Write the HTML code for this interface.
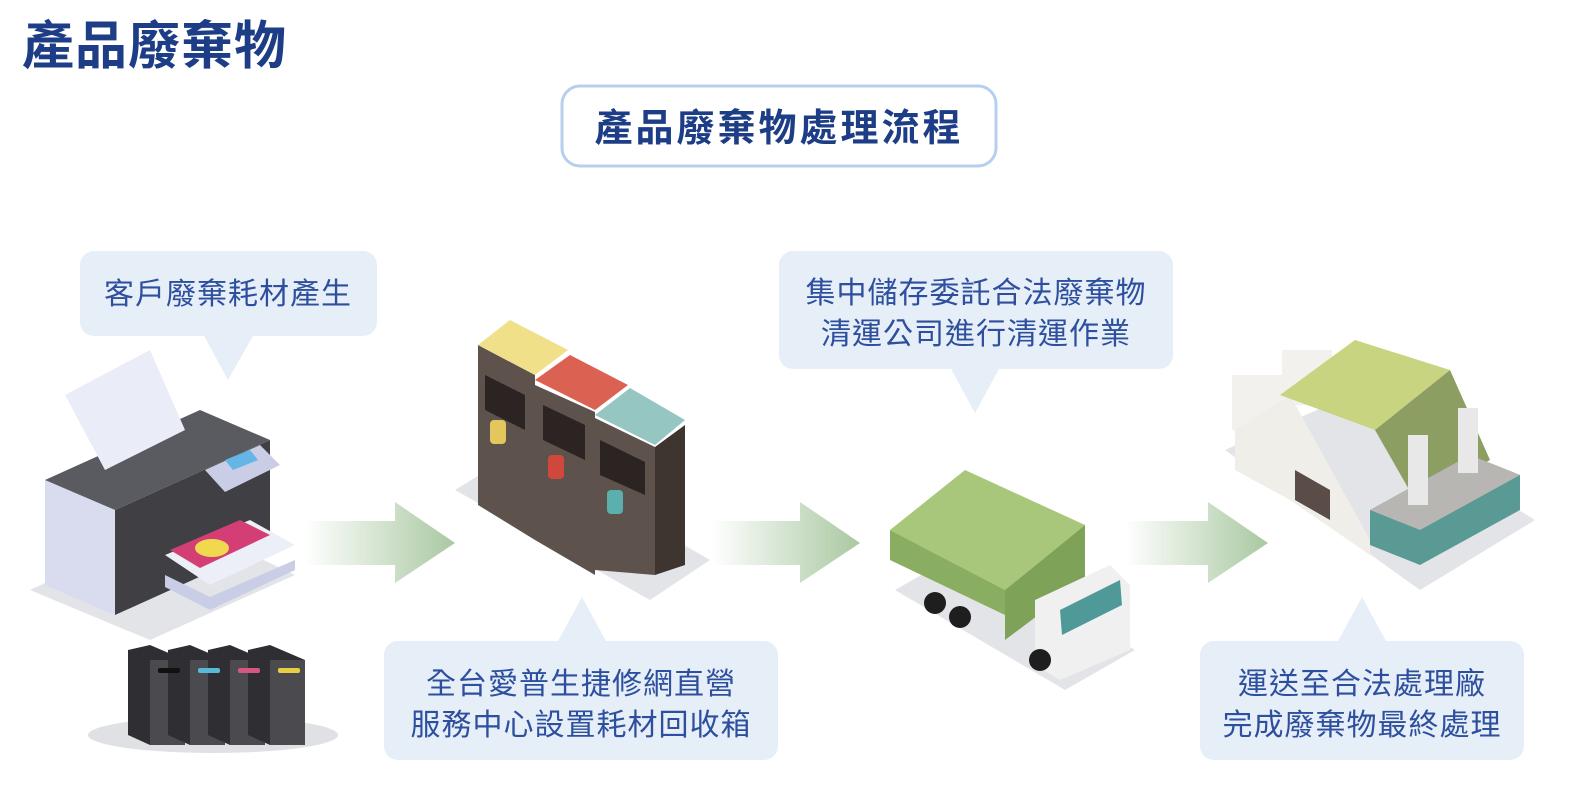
<!DOCTYPE html>
<html><head><meta charset="utf-8"><style>
body{margin:0;background:#fff;width:1570px;height:808px;overflow:hidden;font-family:"Liberation Sans","Noto Sans CJK TC",sans-serif}
svg{position:absolute;left:0;top:0}
</style></head><body>
<svg width="1570" height="808" viewBox="0 0 1570 808" xmlns="http://www.w3.org/2000/svg" font-family="Liberation Sans, Noto Sans CJK TC, sans-serif">
<defs>
<linearGradient id="ag" x1="0" x2="1" y1="0" y2="0">
<stop offset="0" stop-color="#a9c8a1" stop-opacity="0"/>
<stop offset="1" stop-color="#a9c8a1"/>
</linearGradient>
</defs>
<text x="22" y="64" font-size="52" font-weight="bold" fill="#1d3e86" letter-spacing="1">產品廢棄物</text>
<rect x="562" y="86" width="434" height="80" rx="18" fill="#fff" stroke="#b7cfee" stroke-width="3"/>
<text x="779" y="141" font-size="38" font-weight="bold" fill="#1d3e86" text-anchor="middle" letter-spacing="3">產品廢棄物處理流程</text>

<g fill="#e6eef8">
<rect x="80" y="251" width="297" height="85" rx="14"/><polygon points="203,334 254,334 228,380"/>
<rect x="779" y="251" width="394" height="118" rx="14"/><polygon points="950,367 1000,367 975,413"/>
<rect x="384" y="641" width="394" height="119" rx="14"/><polygon points="557,643 607,643 582,597"/>
<rect x="1200" y="641" width="324" height="119" rx="14"/><polygon points="1337,643 1387,643 1362,597"/>
</g>
<g fill="#2d4f9e" font-size="30" text-anchor="middle" letter-spacing="1">
<text x="228" y="304">客戶廢棄耗材產生</text>
<text x="976" y="303">集中儲存委託合法廢棄物</text>
<text x="976" y="344">清運公司進行清運作業</text>
<text x="581" y="694">全台愛普生捷修網直營</text>
<text x="581" y="735">服務中心設置耗材回收箱</text>
<text x="1362" y="694">運送至合法處理廠</text>
<text x="1362" y="735">完成廢棄物最終處理</text>
</g>

<polygon points="305,521 395,521 395,502 455,543 395,583 395,565 305,565" fill="url(#ag)"/>
<polygon points="712,521 800,521 800,502 860,543 800,583 800,565 712,565" fill="url(#ag)"/>
<polygon points="1125,521 1208,521 1208,502 1268,543 1208,583 1208,565 1125,565" fill="url(#ag)"/>

<!-- printer -->
<polygon points="30,590 150,640 295,575 180,520" fill="#e3e4e8"/>
<polygon points="45,480 115,510 115,615 45,585" fill="#d9dbef"/>
<polygon points="115,510 270,440 270,545 115,615" fill="#3f3f44"/>
<polygon points="45,480 200,410 270,440 115,510" fill="#5a5b60"/>
<polygon points="65,395 150,350 185,430 105,470" fill="#eaedf7"/>
<polygon points="205,470 260,445 280,465 225,492" fill="#c9cde6"/>
<polygon points="225,460 250,450 258,460 233,470" fill="#63b6e6"/>
<polygon points="165,555 250,520 295,545 210,585" fill="#eceef8"/>
<polygon points="170,550 240,520 270,535 200,568" fill="#d33f75"/>
<ellipse cx="212" cy="548" rx="17" ry="9" fill="#f0d94f"/>
<polygon points="165,575 210,597 295,560 295,570 210,610 165,587" fill="#c9cde6"/>
<ellipse cx="213" cy="735" rx="125" ry="18" fill="#e0e1e4"/>
<g>
<polygon points="128,650 150,645 185,660 185,745 150,745 128,735" fill="#2f2f33"/>
<polygon points="150,660 185,660 185,745 150,745" fill="#4a4a4f"/>
<polygon points="168,650 190,645 225,660 225,745 190,745 168,735" fill="#2f2f33"/>
<polygon points="190,660 225,660 225,745 190,745" fill="#4a4a4f"/>
<polygon points="208,650 230,645 265,660 265,745 230,745 208,735" fill="#2f2f33"/>
<polygon points="230,660 265,660 265,745 230,745" fill="#4a4a4f"/>
<polygon points="248,650 270,645 305,660 305,745 270,745 248,735" fill="#2f2f33"/>
<polygon points="270,660 305,660 305,745 270,745" fill="#4a4a4f"/>
<rect x="158" y="668" width="22" height="5" rx="2" fill="#111"/>
<rect x="198" y="668" width="22" height="5" rx="2" fill="#5ab9d6"/>
<rect x="238" y="668" width="22" height="5" rx="2" fill="#d6567f"/>
<rect x="278" y="668" width="22" height="5" rx="2" fill="#e8cd43"/>
</g>

<!-- bins -->
<polygon points="455,490 650,600 710,560 520,450" fill="#e3e4e7"/>
<polygon points="478,345 535,375 535,540 478,505" fill="#5e524c"/>
<polygon points="478,345 510,320 568,350 535,375" fill="#f0e08a"/>
<polygon points="535,380 570,355 628,385 595,410" fill="#db6153"/>
<polygon points="535,385 595,412 595,575 535,540" fill="#5e524c"/>
<polygon points="595,415 630,388 685,420 655,445" fill="#96c6c1"/>
<polygon points="595,418 655,447 655,575 595,570" fill="#5e524c"/>
<polygon points="655,447 685,425 685,565 655,575" fill="#3e3430"/>
<polygon points="485,375 525,395 525,430 485,410" fill="#2b2422"/>
<polygon points="543,405 585,425 585,460 543,440" fill="#2b2422"/>
<polygon points="600,440 645,462 645,495 600,475" fill="#2b2422"/>
<rect x="490" y="420" width="16" height="24" rx="4" fill="#e4c75c"/>
<rect x="548" y="455" width="16" height="24" rx="4" fill="#d0483c"/>
<rect x="607" y="490" width="16" height="24" rx="4" fill="#5bb0ae"/>

<!-- truck -->
<polygon points="895,590 1065,690 1135,650 965,550" fill="#e3e4e7"/>
<polygon points="890,530 965,470 1085,525 1005,590" fill="#a9c77a"/>
<polygon points="890,530 1005,590 1005,615 890,560" fill="#8aae61"/>
<polygon points="1005,590 1085,525 1085,580 1005,640" fill="#7ea258"/>
<polygon points="1035,600 1110,565 1130,585 1130,650 1060,680 1035,665" fill="#f0f0f0"/>
<polygon points="1060,610 1120,580 1122,605 1062,635" fill="#4f9a98"/>
<circle cx="935" cy="603" r="11" fill="#1e1e1e"/><circle cx="960" cy="617" r="11" fill="#1e1e1e"/><circle cx="1040" cy="660" r="11" fill="#1e1e1e"/>

<!-- factory -->
<polygon points="1225,450 1420,590 1535,520 1340,400" fill="#e3e4e7"/>
<rect x="1232" y="375" width="50" height="55" fill="#f2f1ee"/>
<rect x="1282" y="350" width="50" height="55" fill="#f2f1ee"/>
<polygon points="1235,430 1290,395 1370,540 1370,555 1290,500 1235,470" fill="#f0eee9"/>
<polygon points="1280,395 1355,340 1450,370 1375,430" fill="#c8d47f"/>
<polygon points="1375,430 1450,370 1490,460 1415,500" fill="#8c9e62"/>
<polygon points="1370,510 1470,455 1520,475 1520,510 1420,565 1370,545" fill="#5a9a94"/>
<polygon points="1370,510 1470,455 1520,475 1420,530" fill="#b8b6b3"/>
<rect x="1408" y="435" width="20" height="70" fill="#e8e8e8"/>
<rect x="1458" y="408" width="20" height="65" fill="#e8e8e8"/>
<polygon points="1295,470 1330,490 1330,520 1295,500" fill="#5a4c47"/>
</svg>
</body></html>
